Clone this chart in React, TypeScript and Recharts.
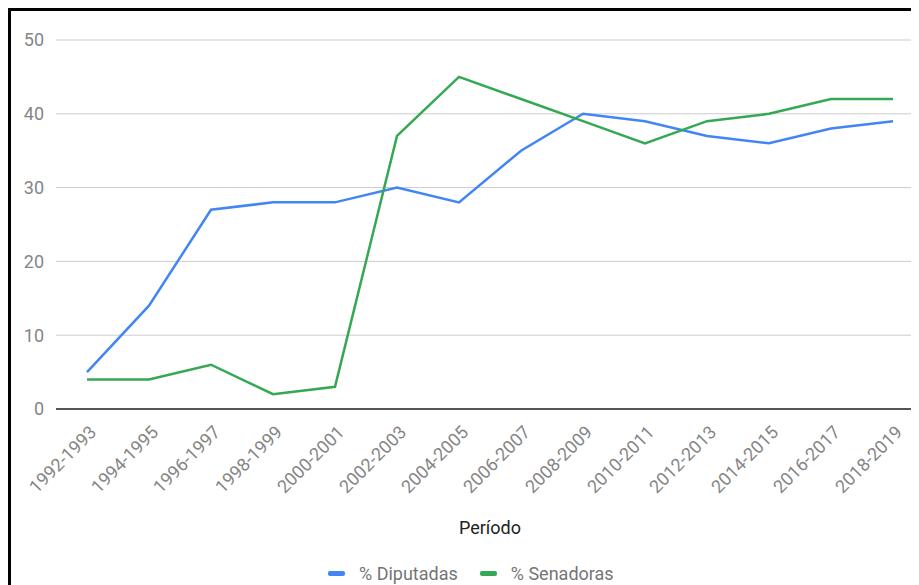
import { CartesianGrid, Legend, Line, LineChart, XAxis, YAxis } from "recharts";

const periodos = [
  "1992-1993",
  "1994-1995",
  "1996-1997",
  "1998-1999",
  "2000-2001",
  "2002-2003",
  "2004-2005",
  "2006-2007",
  "2008-2009",
  "2010-2011",
  "2012-2013",
  "2014-2015",
  "2016-2017",
  "2018-2019",
];
const diputadas = [5, 14, 27, 28, 28, 30, 28, 35, 40, 39, 37, 36, 38, 39];
const senadoras = [4, 4, 6, 2, 3, 37, 45, 42, 39, 36, 39, 40, 42, 42];
const yTicks = [0, 10, 20, 30, 40, 50];

const data = periodos.map((periodo, i) => ({
  periodo,
  diputadas: diputadas[i],
  senadoras: senadoras[i],
}));

const AZUL = "#4285f4";
const VERDE = "#34a853";
const FONT = "Roboto, sans-serif";
const TICK_GRIS = "#858585";

const RotatedTick = (props: any) => {
  const { x, y, payload } = props;
  return (
    <g transform={`translate(${x + 6},${y + 12})`}>
      <text
        transform="rotate(-45)"
        textAnchor="end"
        dy="0.35em"
        fill={TICK_GRIS}
        fontSize={18}
        fontFamily={FONT}
      >
        {payload.value}
      </text>
    </g>
  );
};

const series = [
  { label: "% Diputadas", color: AZUL },
  { label: "% Senadoras", color: VERDE },
];

const LegendBox = () => (
  <div style={{ display: "flex", alignItems: "center", fontFamily: FONT, fontSize: 18, color: "#757575" }}>
    {series.map((s) => (
      <div key={s.label} style={{ display: "flex", alignItems: "center", marginRight: 22 }}>
        <span style={{ width: 17, height: 5, borderRadius: 2, background: s.color, marginRight: 14 }} />
        <span>{s.label}</span>
      </div>
    ))}
  </div>
);

export default function App() {
  return (
    <div
      style={{
        width: 911,
        height: 577,
        borderTop: "3px solid #000",
        borderLeft: "3px solid #000",
        boxSizing: "border-box",
        overflow: "hidden",
        background: "#fff",
      }}
    >
      <LineChart
        width={930}
        height={574}
        data={data}
        margin={{ top: 29, right: 17, left: 0, bottom: 0 }}
      >
        <CartesianGrid vertical={false} stroke="#cccccc" />
        <XAxis
          dataKey="periodo"
          height={176}
          interval={0}
          tick={<RotatedTick />}
          tickLine={false}
          axisLine={{ stroke: "#555", strokeWidth: 2 }}
          padding={{ left: 31, right: 31 }}
          label={{
            value: "Período",
            position: "insideTop",
            offset: 112,
            fill: "#222",
            fontSize: 18,
            fontFamily: FONT,
          }}
        />
        <YAxis
          width={45}
          domain={[0, 50]}
          ticks={yTicks}
          tickLine={false}
          axisLine={false}
          tickMargin={6}
          tick={{ fill: TICK_GRIS, fontSize: 18, fontFamily: FONT }}
        />
        <Legend
          verticalAlign="middle"
          align="center"
          content={<LegendBox />}
          wrapperStyle={{ top: 552, left: 317, width: "auto" }}
        />
        <Line
          type="linear"
          dataKey="diputadas"
          name="% Diputadas"
          stroke={AZUL}
          strokeWidth={2.5}
          dot={false}
          isAnimationActive={false}
        />
        <Line
          type="linear"
          dataKey="senadoras"
          name="% Senadoras"
          stroke={VERDE}
          strokeWidth={2.5}
          dot={false}
          isAnimationActive={false}
        />
      </LineChart>
    </div>
  );
}
